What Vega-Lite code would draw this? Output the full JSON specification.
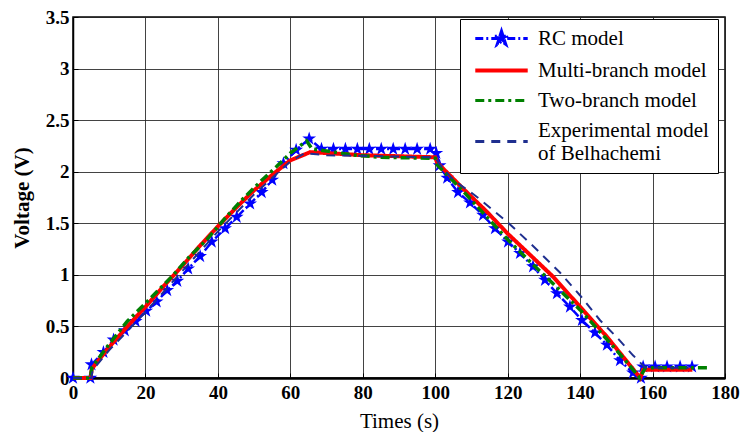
{
  "$schema": "https://vega.github.io/schema/vega-lite/v6.json",
  "width": 652,
  "height": 361,
  "autosize": "none",
  "padding": {"left": 73, "top": 17, "right": 20, "bottom": 54},
  "background": "white",
  "config": {
    "view": {"stroke": "black", "strokeWidth": 1.5},
    "font": "Liberation Serif",
    "axis": {
      "labelFont": "Liberation Serif",
      "titleFont": "Liberation Serif",
      "labelColor": "black",
      "titleColor": "black",
      "labelFontSize": 19,
      "labelFontWeight": "bold",
      "labelFlush": false,
      "labelOverlap": false,
      "gridColor": "#222222",
      "gridWidth": 1,
      "gridOpacity": 0.85,
      "domainColor": "black",
      "tickColor": "black",
      "tickSize": -5
    },
    "legend": {"labelFont": "Liberation Serif", "labelColor": "black"}
  },
  "datasets": {
    "d": [
      {"s": "RC model", "t": 0, "v": 0},
      {"s": "RC model", "t": 4.8, "v": 0},
      {"s": "RC model", "t": 5.1, "v": 0.13},
      {"s": "RC model", "t": 8.4, "v": 0.25},
      {"s": "RC model", "t": 11.2, "v": 0.37},
      {"s": "RC model", "t": 14.3, "v": 0.46},
      {"s": "RC model", "t": 17.3, "v": 0.55},
      {"s": "RC model", "t": 20.2, "v": 0.65},
      {"s": "RC model", "t": 23.1, "v": 0.74},
      {"s": "RC model", "t": 26, "v": 0.85},
      {"s": "RC model", "t": 28.8, "v": 0.94},
      {"s": "RC model", "t": 31.8, "v": 1.06},
      {"s": "RC model", "t": 35.1, "v": 1.18},
      {"s": "RC model", "t": 38.3, "v": 1.32},
      {"s": "RC model", "t": 42, "v": 1.45},
      {"s": "RC model", "t": 45.2, "v": 1.56},
      {"s": "RC model", "t": 48.9, "v": 1.69},
      {"s": "RC model", "t": 52.1, "v": 1.8},
      {"s": "RC model", "t": 55, "v": 1.92},
      {"s": "RC model", "t": 58.1, "v": 2.08},
      {"s": "RC model", "t": 61.6, "v": 2.21},
      {"s": "RC model", "t": 65.2, "v": 2.32},
      {"s": "RC model", "t": 68.6, "v": 2.22},
      {"s": "RC model", "t": 71.9, "v": 2.22},
      {"s": "RC model", "t": 75.2, "v": 2.22},
      {"s": "RC model", "t": 78.5, "v": 2.22},
      {"s": "RC model", "t": 81.8, "v": 2.22},
      {"s": "RC model", "t": 85.1, "v": 2.22},
      {"s": "RC model", "t": 88.4, "v": 2.22},
      {"s": "RC model", "t": 91.7, "v": 2.22},
      {"s": "RC model", "t": 95, "v": 2.22},
      {"s": "RC model", "t": 98.6, "v": 2.22},
      {"s": "RC model", "t": 100.3, "v": 2.18},
      {"s": "RC model", "t": 101.2, "v": 2.06},
      {"s": "RC model", "t": 103.3, "v": 1.94},
      {"s": "RC model", "t": 106.3, "v": 1.8},
      {"s": "RC model", "t": 109.6, "v": 1.7},
      {"s": "RC model", "t": 113.2, "v": 1.58},
      {"s": "RC model", "t": 116.5, "v": 1.45},
      {"s": "RC model", "t": 120.1, "v": 1.32},
      {"s": "RC model", "t": 123.4, "v": 1.21},
      {"s": "RC model", "t": 127, "v": 1.08},
      {"s": "RC model", "t": 130.3, "v": 0.95},
      {"s": "RC model", "t": 133.6, "v": 0.82},
      {"s": "RC model", "t": 137.2, "v": 0.69},
      {"s": "RC model", "t": 140.5, "v": 0.56},
      {"s": "RC model", "t": 144.1, "v": 0.44},
      {"s": "RC model", "t": 147.4, "v": 0.32},
      {"s": "RC model", "t": 151, "v": 0.17},
      {"s": "RC model", "t": 154.6, "v": 0.05},
      {"s": "RC model", "t": 156.8, "v": 0},
      {"s": "RC model", "t": 157.4, "v": 0.11},
      {"s": "RC model", "t": 160.7, "v": 0.11},
      {"s": "RC model", "t": 164, "v": 0.11},
      {"s": "RC model", "t": 167.6, "v": 0.11},
      {"s": "RC model", "t": 170.9, "v": 0.11},

      {"s": "Multi-branch model", "t": 0, "v": 0},
      {"s": "Multi-branch model", "t": 4.8, "v": 0},
      {"s": "Multi-branch model", "t": 5.2, "v": 0.09},
      {"s": "Multi-branch model", "t": 10, "v": 0.3},
      {"s": "Multi-branch model", "t": 15, "v": 0.5},
      {"s": "Multi-branch model", "t": 20, "v": 0.69},
      {"s": "Multi-branch model", "t": 25, "v": 0.89},
      {"s": "Multi-branch model", "t": 30, "v": 1.08},
      {"s": "Multi-branch model", "t": 35, "v": 1.28},
      {"s": "Multi-branch model", "t": 40, "v": 1.47},
      {"s": "Multi-branch model", "t": 45, "v": 1.65},
      {"s": "Multi-branch model", "t": 50, "v": 1.82},
      {"s": "Multi-branch model", "t": 55, "v": 1.97},
      {"s": "Multi-branch model", "t": 60, "v": 2.11},
      {"s": "Multi-branch model", "t": 65.5, "v": 2.19},
      {"s": "Multi-branch model", "t": 80, "v": 2.16},
      {"s": "Multi-branch model", "t": 100, "v": 2.14},
      {"s": "Multi-branch model", "t": 100.5, "v": 2.09},
      {"s": "Multi-branch model", "t": 107, "v": 1.86},
      {"s": "Multi-branch model", "t": 114.3, "v": 1.61},
      {"s": "Multi-branch model", "t": 120, "v": 1.4},
      {"s": "Multi-branch model", "t": 126, "v": 1.2},
      {"s": "Multi-branch model", "t": 132.6, "v": 0.98},
      {"s": "Multi-branch model", "t": 140, "v": 0.69},
      {"s": "Multi-branch model", "t": 147.4, "v": 0.4},
      {"s": "Multi-branch model", "t": 152, "v": 0.2},
      {"s": "Multi-branch model", "t": 156.6, "v": 0},
      {"s": "Multi-branch model", "t": 157.4, "v": 0.08},
      {"s": "Multi-branch model", "t": 171, "v": 0.08},

      {"s": "Two-branch model", "t": 0, "v": 0},
      {"s": "Two-branch model", "t": 4.8, "v": 0},
      {"s": "Two-branch model", "t": 5.2, "v": 0.1},
      {"s": "Two-branch model", "t": 10, "v": 0.33},
      {"s": "Two-branch model", "t": 15, "v": 0.55},
      {"s": "Two-branch model", "t": 21.3, "v": 0.77},
      {"s": "Two-branch model", "t": 27.2, "v": 0.98},
      {"s": "Two-branch model", "t": 32, "v": 1.17},
      {"s": "Two-branch model", "t": 36.9, "v": 1.34},
      {"s": "Two-branch model", "t": 42, "v": 1.55},
      {"s": "Two-branch model", "t": 47, "v": 1.74},
      {"s": "Two-branch model", "t": 52.5, "v": 1.93},
      {"s": "Two-branch model", "t": 56.2, "v": 2.05},
      {"s": "Two-branch model", "t": 60, "v": 2.18},
      {"s": "Two-branch model", "t": 64.5, "v": 2.3},
      {"s": "Two-branch model", "t": 66, "v": 2.22},
      {"s": "Two-branch model", "t": 70, "v": 2.2},
      {"s": "Two-branch model", "t": 78, "v": 2.16},
      {"s": "Two-branch model", "t": 85, "v": 2.14},
      {"s": "Two-branch model", "t": 100, "v": 2.13},
      {"s": "Two-branch model", "t": 100.5, "v": 2.07},
      {"s": "Two-branch model", "t": 108, "v": 1.8},
      {"s": "Two-branch model", "t": 114, "v": 1.57},
      {"s": "Two-branch model", "t": 120.6, "v": 1.32},
      {"s": "Two-branch model", "t": 127, "v": 1.1},
      {"s": "Two-branch model", "t": 133, "v": 0.9},
      {"s": "Two-branch model", "t": 140, "v": 0.66},
      {"s": "Two-branch model", "t": 147, "v": 0.39},
      {"s": "Two-branch model", "t": 152, "v": 0.19},
      {"s": "Two-branch model", "t": 156.5, "v": 0},
      {"s": "Two-branch model", "t": 158, "v": 0.1},
      {"s": "Two-branch model", "t": 176, "v": 0.1},

      {"s": "Experimental model of Belhachemi", "t": 0, "v": 0},
      {"s": "Experimental model of Belhachemi", "t": 5, "v": 0},
      {"s": "Experimental model of Belhachemi", "t": 5.5, "v": 0.08},
      {"s": "Experimental model of Belhachemi", "t": 10, "v": 0.27},
      {"s": "Experimental model of Belhachemi", "t": 20, "v": 0.64},
      {"s": "Experimental model of Belhachemi", "t": 30, "v": 1.03},
      {"s": "Experimental model of Belhachemi", "t": 40, "v": 1.42},
      {"s": "Experimental model of Belhachemi", "t": 50, "v": 1.78},
      {"s": "Experimental model of Belhachemi", "t": 60, "v": 2.1},
      {"s": "Experimental model of Belhachemi", "t": 64, "v": 2.18},
      {"s": "Experimental model of Belhachemi", "t": 70, "v": 2.16},
      {"s": "Experimental model of Belhachemi", "t": 100, "v": 2.14},
      {"s": "Experimental model of Belhachemi", "t": 101, "v": 2.08},
      {"s": "Experimental model of Belhachemi", "t": 105, "v": 1.92},
      {"s": "Experimental model of Belhachemi", "t": 111, "v": 1.77},
      {"s": "Experimental model of Belhachemi", "t": 120, "v": 1.51},
      {"s": "Experimental model of Belhachemi", "t": 127, "v": 1.28},
      {"s": "Experimental model of Belhachemi", "t": 134.5, "v": 1.02},
      {"s": "Experimental model of Belhachemi", "t": 140, "v": 0.8},
      {"s": "Experimental model of Belhachemi", "t": 145.5, "v": 0.56},
      {"s": "Experimental model of Belhachemi", "t": 150, "v": 0.4},
      {"s": "Experimental model of Belhachemi", "t": 154.6, "v": 0.22},
      {"s": "Experimental model of Belhachemi", "t": 158, "v": 0.1},
      {"s": "Experimental model of Belhachemi", "t": 170, "v": 0.1}
    ]
  },
  "data": {"name": "d"},
  "encoding": {
    "x": {
      "field": "t", "type": "quantitative",
      "scale": {"domain": [0, 180], "nice": false},
      "axis": {
        "values": [0, 20, 40, 60, 80, 100, 120, 140, 160, 180],
        "title": "Times (s)",
        "titleFontSize": 21,
        "titleFontWeight": "normal",
        "titlePadding": 8,
        "labelPadding": 10,
        "domainWidth": 2.5
      }
    },
    "y": {
      "field": "v", "type": "quantitative",
      "scale": {"domain": [0, 3.5], "nice": false},
      "axis": {
        "values": [0, 0.5, 1, 1.5, 2, 2.5, 3, 3.5],
        "labelExpr": "'' + datum.value",
        "title": "Voltage (V)",
        "titleFontSize": 21,
        "titleFontWeight": "bold",
        "titlePadding": 13,
        "labelPadding": 9,
        "domainWidth": 1.5
      }
    }
  },
  "layer": [
    {
      "transform": [{"filter": "datum.s === 'RC model'"}],
      "mark": {"type": "line", "strokeWidth": 2.5},
      "encoding": {
        "color": {
          "field": "s", "type": "nominal",
          "scale": {
            "domain": ["RC model", "Multi-branch model", "Two-branch model", "Experimental model of Belhachemi"],
            "range": ["#0000FF", "#FF0000", "#008000", "#1F2F8F"]
          },
          "legend": {
            "orient": "none",
            "legendX": 387,
            "legendY": 2,
            "title": null,
            "padding": 9,
            "strokeColor": "black",
            "fillColor": "white",
            "labelFontSize": 21,
            "labelLimit": 400,
            "labelOffset": 26,
            "symbolOffset": 22,
            "symbolType": "M-5,0L5,0",
            "symbolSize": 110,
            "symbolStrokeWidth": 3,
            "rowPadding": 8,
            "labelExpr": "datum.value === 'Experimental model of Belhachemi' ? ['Experimental model', 'of Belhachemi'] : datum.value",
            "encode": {
              "symbols": {
                "update": {
                  "strokeWidth": {"signal": "datum.value === 'Multi-branch model' ? 4 : 3"},
                  "shape": {"signal": "datum.value === 'RC model' ? 'M-5,0L5,0M0,-1.4L0.314,-0.433L1.332,-0.433L0.509,0.165L0.823,1.133L0,0.535L-0.823,1.133L-0.509,0.165L-1.332,-0.433L-0.314,-0.433Z' : (datum.value === 'Experimental model of Belhachemi' ? 'M-5,2.1L5,2.1' : 'M-5,0L5,0')"},
                  "fill": {"signal": "datum.value === 'RC model' ? '#0000FF' : 'transparent'"},
                  "fillOpacity": {"value": 1}
                }
              }
            }
          }
        },
        "strokeDash": {
          "field": "s", "type": "nominal",
          "scale": {
            "domain": ["RC model", "Multi-branch model", "Two-branch model", "Experimental model of Belhachemi"],
            "range": [[8, 3, 2, 3], [1, 0], [9, 4, 3, 4], [9, 7]]
          },
          "legend": {
            "orient": "none",
            "legendX": 387,
            "legendY": 2,
            "title": null,
            "padding": 9,
            "strokeColor": "black",
            "fillColor": "white",
            "labelFontSize": 21,
            "labelLimit": 400,
            "labelOffset": 26,
            "symbolOffset": 22,
            "symbolType": "M-5,0L5,0",
            "symbolSize": 110,
            "symbolStrokeWidth": 3,
            "rowPadding": 8,
            "labelExpr": "datum.value === 'Experimental model of Belhachemi' ? ['Experimental model', 'of Belhachemi'] : datum.value"
          }
        }
      }
    },
    {
      "transform": [{"filter": "datum.s === 'RC model'"}],
      "mark": {
        "type": "point",
        "shape": "M0,-1L0.2245,-0.309L0.9511,-0.309L0.3633,0.118L0.5878,0.809L0,0.382L-0.5878,0.809L-0.3633,0.118L-0.9511,-0.309L-0.2245,-0.309Z",
        "size": 210,
        "filled": true,
        "opacity": 1,
        "color": "#0000FF"
      },
      "encoding": {}
    },
    {
      "transform": [{"filter": "datum.s === 'Multi-branch model'"}],
      "mark": {"type": "line", "strokeWidth": 4},
      "encoding": {
        "color": {"field": "s", "type": "nominal"},
        "strokeDash": {"field": "s", "type": "nominal"}
      }
    },
    {
      "transform": [{"filter": "datum.s === 'Two-branch model'"}],
      "mark": {"type": "line", "strokeWidth": 3.5},
      "encoding": {
        "color": {"field": "s", "type": "nominal"},
        "strokeDash": {"field": "s", "type": "nominal"}
      }
    },
    {
      "transform": [{"filter": "datum.s === 'Experimental model of Belhachemi'"}],
      "mark": {"type": "line", "strokeWidth": 2},
      "encoding": {
        "color": {"field": "s", "type": "nominal"},
        "strokeDash": {"field": "s", "type": "nominal"}
      }
    }
  ]
}
